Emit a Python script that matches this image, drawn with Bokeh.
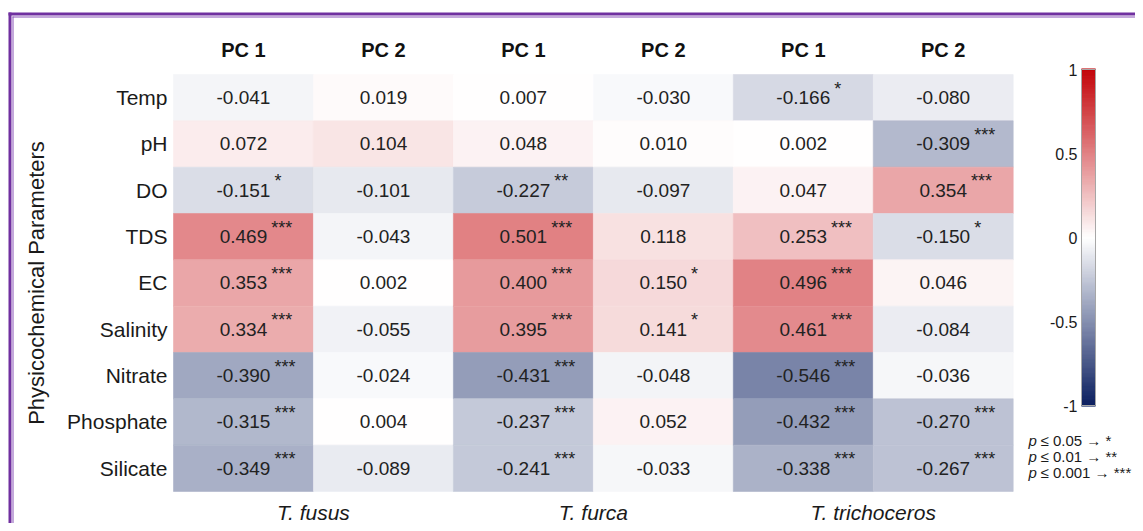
import numpy as np
from bokeh.plotting import figure
from bokeh.models import Range1d, ColumnDataSource, LinearColorMapper
from bokeh.transform import transform
from bokeh.core.properties import value
from bokeh.embed import file_html
from bokeh.resources import INLINE

# ---------------- data ----------------
parameters = ["Temp", "pH", "DO", "TDS", "EC", "Salinity", "Nitrate", "Phosphate", "Silicate"]
species = ["T. fusus", "T. furca", "T. trichoceros"]
components = ["PC 1", "PC 2"]

fusus_pc1 = [-0.041, 0.072, -0.151, 0.469, 0.353, 0.334, -0.390, -0.315, -0.349]
fusus_pc1_sig = ["", "", "*", "***", "***", "***", "***", "***", "***"]
fusus_pc2 = [0.019, 0.104, -0.101, -0.043, 0.002, -0.055, -0.024, 0.004, -0.089]
fusus_pc2_sig = ["", "", "", "", "", "", "", "", ""]
furca_pc1 = [0.007, 0.048, -0.227, 0.501, 0.400, 0.395, -0.431, -0.237, -0.241]
furca_pc1_sig = ["", "", "**", "***", "***", "***", "***", "***", "***"]
furca_pc2 = [-0.030, 0.010, -0.097, 0.118, 0.150, 0.141, -0.048, 0.052, -0.033]
furca_pc2_sig = ["", "", "", "", "*", "*", "", "", ""]
tri_pc1 = [-0.166, 0.002, 0.047, 0.253, 0.496, 0.461, -0.546, -0.432, -0.338]
tri_pc1_sig = ["*", "", "", "***", "***", "***", "***", "***", "***"]
tri_pc2 = [-0.080, -0.309, 0.354, -0.150, 0.046, -0.084, -0.036, -0.270, -0.267]
tri_pc2_sig = ["", "***", "***", "*", "", "", "", "***", "***"]

colorbar_ticks = [1, 0.5, 0, -0.5, -1]
colorbar_tick_labels = ["1", "0.5", "0", "-0.5", "-1"]
p_thresholds = ["0.05", "0.01", "0.001"]
p_marks = ["*", "**", "***"]

columns = [(fusus_pc1, fusus_pc1_sig), (fusus_pc2, fusus_pc2_sig),
           (furca_pc1, furca_pc1_sig), (furca_pc2, furca_pc2_sig),
           (tri_pc1, tri_pc1_sig), (tri_pc2, tri_pc2_sig)]

# ---------------- layout (canvas pixels) ----------------
W, H = 1135, 523
X0, CW = 173.0, 139.95
Y0, RH = 74.0, 46.33
CB_TOP, CB_BOT = 69.0, 405.0
CB_X, CB_W = 1088.0, 14.0
FONT = value("Liberation Sans")
NUM_SIZE = 19

x_range = Range1d(-X0 / CW, (W - X0) / CW)
y_range = Range1d((H - Y0) / RH, -Y0 / RH)

p = figure(width=W, height=H, x_range=x_range, y_range=y_range,
           output_backend="svg", toolbar_location=None, tools="",
           min_border=0, x_axis_location=None, y_axis_location=None)
p.grid.visible = False
p.outline_line_color = None
p.background_fill_color = "white"
p.border_fill_color = "white"

half = (CB_BOT - CB_TOP) / 2.0
p.extra_x_ranges = {"px": Range1d(0, W)}
p.extra_y_ranges = {"py": Range1d(H, 0),
                    "cb": Range1d(1 - (H - CB_TOP) / half, 1 + CB_TOP / half)}

# ---------------- colour map ----------------
navy = np.array([10, 30, 95]); white = np.array([255, 255, 255]); red = np.array([195, 5, 10])
palette = []
for t in np.linspace(-1, 1, 256):
    c = white + (navy - white) * (-t) if t < 0 else white + (red - white) * t
    palette.append("#%02x%02x%02x" % tuple(int(round(v)) for v in c))
mapper = LinearColorMapper(palette=palette, low=-1, high=1)

# ---------------- heatmap ----------------
char_w = {"-": 0.333, ".": 0.278}
xs, ys, vals, labels, stars, star_dx = [], [], [], [], [], []
for i, (vals_col, sig_col) in enumerate(columns):
    for j, (v, s) in enumerate(zip(vals_col, sig_col)):
        lab = "%.3f" % v
        xs.append(i + 0.5); ys.append(j + 0.5); vals.append(v)
        labels.append(lab); stars.append(s)
        w = sum(char_w.get(ch, 0.556) for ch in lab) * NUM_SIZE
        star_dx.append(w / 2 + 4)
src = ColumnDataSource(dict(x=xs, y=ys, value=vals, label=labels, stars=stars, star_dx=star_dx))

p.rect(x="x", y="y", width=1, height=1, source=src,
       fill_color=transform("value", mapper), line_color=transform("value", mapper), line_width=0.6)
p.text(x="x", y="y", text="label", source=src, text_align="center", text_baseline="middle",
       text_font=FONT, text_font_size="%dpx" % NUM_SIZE, text_color="#222222")
p.text(x="x", y="y", text="stars", source=src, x_offset="star_dx", y_offset=-9,
       text_align="left", text_baseline="middle",
       text_font=FONT, text_font_size="18px", text_color="#222222")

# row labels
p.text(x=[0] * len(parameters), y=[j + 0.5 for j in range(len(parameters))], text=parameters,
       x_offset=-6, text_align="right", text_baseline="middle",
       text_font=FONT, text_font_size="21px", text_color="#1a1a1a")
# column headers
p.text(x=[i + 0.5 for i in range(6)], y=[0] * 6, text=components * len(species),
       y_offset=-25, text_align="center", text_baseline="middle",
       text_font=FONT, text_font_size="20px", text_font_style="bold", text_color="#111111")
# species labels
p.text(x=[2 * k + 1 for k in range(len(species))], y=[len(parameters)] * len(species), text=species,
       y_offset=21, text_align="center", text_baseline="middle",
       text_font=FONT, text_font_size="21px", text_font_style="italic", text_color="#1a1a1a")
# y-axis title
p.text(x=[36], y=[len(parameters) / 2], text=["Physicochemical Parameters"], angle=np.pi / 2,
       x_range_name="px", text_align="center", text_baseline="middle",
       text_font=FONT, text_font_size="22px", text_color="#1a1a1a")

# ---------------- colour bar ----------------
ramp = np.linspace(-1, 1, 300)
ramp_colors = [palette[int(round((v + 1) / 2 * 255))] for v in ramp]
p.rect(x=[CB_X] * len(ramp), y=ramp, width=CB_W, height=2.0 / 299,
       fill_color=ramp_colors, line_color=ramp_colors, line_width=1,
       x_range_name="px", y_range_name="cb")
p.rect(x=[CB_X], y=[0], width=CB_W, height=2, fill_color=None, line_color="#a6a6a6", line_width=1,
       x_range_name="px", y_range_name="cb")
p.text(x=[CB_X - CB_W / 2] * len(colorbar_ticks), y=colorbar_ticks, text=colorbar_tick_labels,
       x_offset=-4, text_align="right", text_baseline="middle",
       text_font=FONT, text_font_size="16px", text_color="#1a1a1a",
       x_range_name="px", y_range_name="cb")

# significance legend
leg_y = [440, 456, 472]
p.text(x=[1028] * 3, y=leg_y, text=["p"] * 3, text_align="left", text_baseline="middle",
       text_font=FONT, text_font_size="15px", text_font_style="italic", text_color="#1a1a1a",
       x_range_name="px", y_range_name="py")
p.text(x=[1028] * 3, y=leg_y, text=["\u2264 %s \u2192 %s" % (t, m) for t, m in zip(p_thresholds, p_marks)],
       x_offset=12, text_align="left", text_baseline="middle",
       text_font=FONT, text_font_size="15px", text_color="#1a1a1a",
       x_range_name="px", y_range_name="py")

# ---------------- purple frame ----------------
purple = "#7030A0"
p.quad(left=[8, 8], right=[11, W], top=[12, 12], bottom=[H, 15], fill_color=purple, line_color=None,
       x_range_name="px", y_range_name="py")
p.quad(left=[12, 12], right=[13, W], top=[16, 16], bottom=[H, 17], fill_color="#8a55b8", line_color=None,
       x_range_name="px", y_range_name="py")

open("out.html", "w").write(file_html(p, INLINE))
